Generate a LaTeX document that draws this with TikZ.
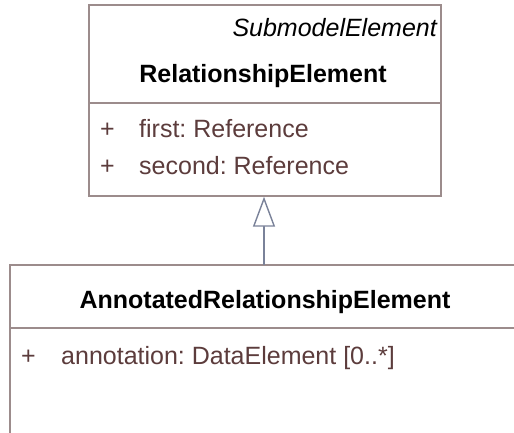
\documentclass[tikz,border=0pt]{standalone}
\usepackage{fontspec}
\setmainfont{Liberation Sans}
\usetikzlibrary{arrows.meta}
\definecolor{boxline}{HTML}{9C8C8C}
\definecolor{attrtext}{HTML}{5C3C3C}
\definecolor{arrowline}{HTML}{7A8299}
\frenchspacing
\tikzset{
  umlbox/.style={draw=boxline, line width=1.4pt, fill=white},
  divider/.style={draw=boxline, line width=1.4pt},
  title/.style={font=\fontsize{25}{30}\selectfont\bfseries, text=black, inner sep=0pt, anchor=base},
  stereo/.style={font=\fontsize{25}{30}\selectfont\itshape, text=black, inner sep=0pt, anchor=base east},
  attr/.style={font=\fontsize{25}{30}\selectfont, text=attrtext, inner sep=0pt, anchor=base west},
  inherit/.style={draw=arrowline, line width=1.4pt, -{Triangle[open, length=30pt, width=22pt, fill=white]}}
}
\begin{document}
\begin{tikzpicture}[x=1pt,y=-1pt]
\useasboundingbox (0,0) rectangle (514,433);
\clip (0,0) rectangle (514,433);
\fill[white] (0,0) rectangle (514,433);
% top class
\draw[umlbox] (89,5) rectangle (441,196);
\draw[divider] (89,103) -- (441,103);
\node[stereo] (stereo) at (437,37) {SubmodelElement};
\node[title] (rel) at (263,83) {RelationshipElement};
\node[attr] (p1) at (100,138) {+};
\node[attr] (a1) at (139,138) {first: Reference};
\node[attr] (p2) at (100,175) {+};
\node[attr] (a2) at (139,175) {second: Reference};
\coordinate (topbot) at (264,196.7);
% bottom class
\draw[umlbox] (10,265) rectangle (540,460);
\draw[divider] (10,328) -- (540,328);
\node[title] (ann) at (265,308) {AnnotatedRelationshipElement};
\node[attr] (p3) at (21,364) {+};
\node[attr] (a3) at (61,364) {annotation: DataElement [0..*]};
\coordinate (bottop) at (264,265);
% generalization
\draw[inherit] (bottop) -- (topbot);
\end{tikzpicture}
\end{document}
